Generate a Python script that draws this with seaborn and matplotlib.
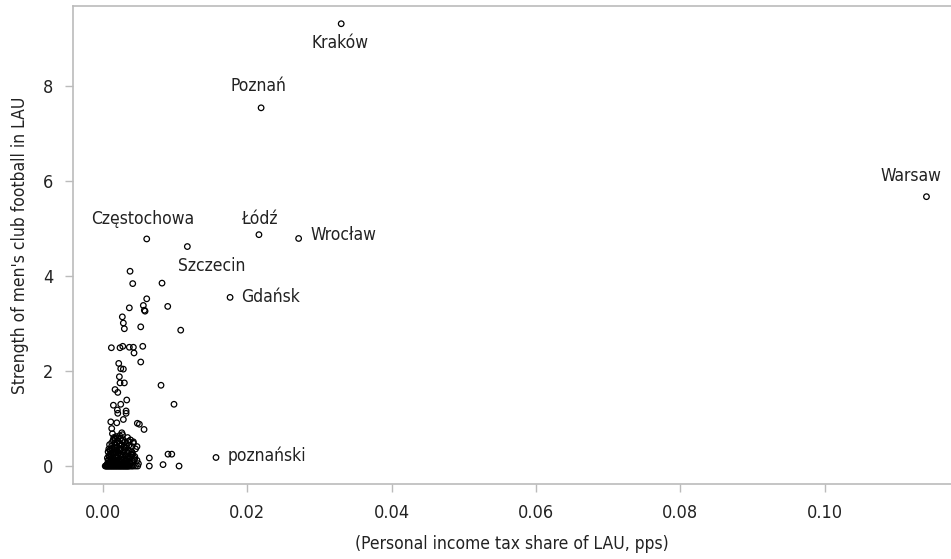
import matplotlib
matplotlib.use("Agg")
import matplotlib.pyplot as plt
import seaborn as sns
import pandas as pd

# Labelled LAUs
city_names = ["Kraków", "Poznań", "Warsaw", "Częstochowa", "Łódź", "Wrocław",
              "Szczecin", "Gdańsk", "poznański"]
city_x = [0.0330, 0.0219, 0.1141, 0.00605, 0.0216, 0.0271, 0.01168, 0.0176, 0.01565]
city_y = [9.31, 7.54, 5.67, 4.78, 4.87, 4.79, 4.62, 3.55, 0.18]

# Other (unlabelled) LAUs
other_x = [0.00374, 0.00411, 0.00817, 0.00605, 0.00558, 0.00572, 0.00582, 0.00364,
           0.00896, 0.00267, 0.00281, 0.00295, 0.00522, 0.01076, 0.00115, 0.00235,
           0.00273, 0.00364, 0.00420, 0.00429, 0.00550, 0.00522, 0.00217, 0.00245,
           0.00281, 0.00226, 0.00235, 0.00295, 0.00803, 0.00166, 0.00204, 0.00328,
           0.00983, 0.00143, 0.00198, 0.00245, 0.00319, 0.00204, 0.00319, 0.00281,
           0.00107, 0.00190, 0.00120, 0.00475, 0.00503, 0.00568, 0.00900, 0.00952,
           0.00641, 0.00641, 0.00831, 0.01053,
           # dense cluster, non-zero values
           0.0006, 0.0007, 0.0008, 0.0009, 0.0010, 0.0011, 0.0012, 0.0012, 0.0013,
           0.0014, 0.0014, 0.0015, 0.0016, 0.0016, 0.0017, 0.0018, 0.0018, 0.0019,
           0.0020, 0.0021, 0.0021, 0.0022, 0.0023, 0.0024, 0.0024, 0.0025, 0.0026,
           0.0027, 0.0027, 0.0028, 0.0029, 0.0030, 0.0031, 0.0032, 0.0033, 0.0034,
           0.0035, 0.0036, 0.0037, 0.0038, 0.0040, 0.0041, 0.0042, 0.0044, 0.0045,
           0.0047, 0.0049, 0.0013, 0.0009, 0.0026, 0.0042, 0.0047, 0.0040, 0.0044,
           0.0011, 0.0019, 0.0023, 0.0029, 0.0033, 0.0008, 0.0015, 0.0036, 0.0039,
           0.0005, 0.0007, 0.0010, 0.0012, 0.0014, 0.0017, 0.0019, 0.0022, 0.0025,
           0.0028, 0.0031, 0.0034, 0.0037, 0.0006, 0.0009, 0.0011, 0.0015, 0.0018,
           0.0021, 0.0024, 0.0027, 0.0030, 0.0033, 0.0016, 0.0020, 0.0025, 0.0032,
           0.0012, 0.0023, 0.0029, 0.0035, 0.0017, 0.0028, 0.0039, 0.0043,
           0.0008, 0.0010, 0.0013, 0.0016, 0.0019, 0.0022, 0.0026, 0.0029, 0.0032,
           0.0035, 0.0038, 0.0041, 0.0007, 0.0012, 0.0017, 0.0021, 0.0026, 0.0031,
           0.0036, 0.0040, 0.0014, 0.0018, 0.0023, 0.0027, 0.0034, 0.0020, 0.0030,
           # dense cluster, zero values
           0.0003, 0.0004, 0.0005, 0.0006, 0.0007, 0.0008, 0.0009, 0.0010, 0.0011,
           0.0012, 0.0013, 0.0014, 0.0015, 0.0016, 0.0017, 0.0018, 0.0019, 0.0020,
           0.0021, 0.0022, 0.0023, 0.0024, 0.0025, 0.0026, 0.0027, 0.0028, 0.0029,
           0.0030, 0.0031, 0.0032, 0.0033, 0.0034, 0.0035, 0.0036, 0.0038, 0.0040,
           0.0042, 0.0045, 0.0048]
other_y = [4.10, 3.84, 3.85, 3.52, 3.38, 3.28, 3.26, 3.33,
           3.36, 3.14, 3.01, 2.89, 2.93, 2.86, 2.49, 2.49,
           2.52, 2.50, 2.50, 2.38, 2.52, 2.19, 2.16, 2.05,
           2.04, 1.88, 1.75, 1.75, 1.70, 1.61, 1.55, 1.39,
           1.30, 1.28, 1.18, 1.30, 1.16, 1.11, 1.11, 0.98,
           0.93, 0.91, 0.79, 0.90, 0.88, 0.77, 0.25, 0.25,
           0.17, 0.00, 0.03, 0.00,
           0.05, 0.12, 0.22, 0.08, 0.31, 0.15, 0.42, 0.04, 0.26,
           0.55, 0.10, 0.35, 0.18, 0.48, 0.06, 0.28, 0.62, 0.12,
           0.40, 0.20, 0.52, 0.08, 0.33, 0.58, 0.15, 0.24, 0.45,
           0.05, 0.66, 0.30, 0.14, 0.50, 0.22, 0.38, 0.07, 0.60,
           0.28, 0.44, 0.16, 0.55, 0.30, 0.10, 0.48, 0.20, 0.36,
           0.12, 0.05, 0.68, 0.45, 0.70, 0.51, 0.41, 0.41, 0.16,
           0.09, 0.03, 0.64, 0.02, 0.11, 0.36, 0.60, 0.07, 0.25,
           0.02, 0.03, 0.06, 0.09, 0.04, 0.10, 0.07, 0.03, 0.09,
           0.04, 0.06, 0.03, 0.08, 0.17, 0.19, 0.24, 0.27, 0.21,
           0.27, 0.33, 0.21, 0.34, 0.27, 0.39, 0.31, 0.36, 0.45,
           0.36, 0.46, 0.40, 0.52, 0.57, 0.55, 0.24, 0.13,
           0.14, 0.35, 0.19, 0.29, 0.16, 0.37, 0.18, 0.42, 0.14,
           0.21, 0.05, 0.26, 0.30, 0.49, 0.38, 0.11, 0.53, 0.01,
           0.32, 0.22, 0.12, 0.44, 0.01, 0.02, 0.18, 0.59, 0.02,
           0, 0, 0, 0, 0, 0, 0, 0, 0,
           0, 0, 0, 0, 0, 0, 0, 0, 0,
           0, 0, 0, 0, 0, 0, 0, 0, 0,
           0, 0, 0, 0, 0, 0, 0, 0, 0,
           0, 0, 0]

# label placement (data coords) and alignment
label_x = [0.0329, 0.0216, 0.1162, 0.0055, 0.0216, 0.0288, 0.0151, 0.0191, 0.0173]
label_y = [8.91, 8.00, 6.11, 5.19, 5.21, 4.87, 4.22, 3.55, 0.21]
label_ha = ["center", "center", "right", "center", "center", "left", "center", "left", "left"]

x_ticks = [0.00, 0.02, 0.04, 0.06, 0.08, 0.10]
x_tick_labels = ["0.00", "0.02", "0.04", "0.06", "0.08", "0.10"]
y_ticks = [0, 2, 4, 6, 8]

df = pd.DataFrame({"x": other_x + city_x, "y": other_y + city_y})

sns.set_style("white")
plt.rcParams["font.family"] = ["DejaVu Sans"]
plt.rcParams["font.stretch"] = "condensed"

fig = plt.figure(figsize=(9.51, 5.59), dpi=100)
ax = fig.add_axes([0.0765, 0.134, 0.9235, 0.855])

sns.scatterplot(data=df, x="x", y="y", ax=ax, marker="o", s=16,
                facecolor="none", edgecolor="black", linewidth=0.9)

for name, lx, ly, ha in zip(city_names, label_x, label_y, label_ha):
    ax.text(lx, ly, name, ha=ha, va="center", fontsize=12.5, color="#222222",
            fontstretch="condensed")

ax.set_xlim(-0.0042, 0.1175)
ax.set_ylim(-0.38, 9.68)
ax.set_xticks(x_ticks)
ax.set_xticklabels(x_tick_labels)
ax.set_yticks(y_ticks)
ax.set_xlabel("(Personal income tax share of LAU, pps)", fontsize=12.5, color="#222222",
              labelpad=10, fontstretch="condensed")
ax.set_ylabel("Strength of men's club football in LAU", fontsize=12.5, color="#222222",
              labelpad=10, fontstretch="condensed")

for side in ["left", "bottom", "top"]:
    ax.spines[side].set_color("#bbbbbb")
    ax.spines[side].set_linewidth(1.2)
ax.spines["right"].set_visible(False)
ax.tick_params(axis="both", which="major", length=6, width=1, color="#bbbbbb",
               labelsize=13, labelcolor="#222222", pad=8, bottom=True, left=True)
for lab in ax.get_xticklabels() + ax.get_yticklabels():
    lab.set_fontstretch("condensed")

fig.savefig("out.png", dpi=100)
